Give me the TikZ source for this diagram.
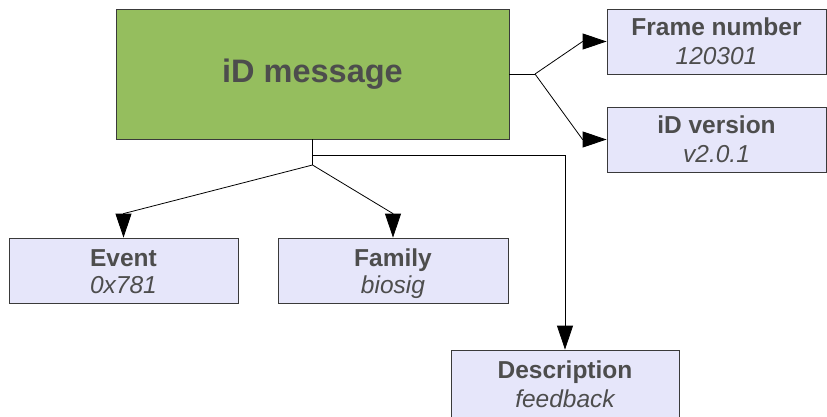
\documentclass[tikz,border=0pt]{standalone}
\usepackage{fontspec}
\setmainfont{Liberation Sans}
\usetikzlibrary{arrows.meta}

\definecolor{msggreen}{HTML}{95BE5E}
\definecolor{fieldfill}{HTML}{E6E6FA}
\definecolor{edgegray}{HTML}{3A3A3A}
\definecolor{textgray}{HTML}{4D4D4D}

\tikzset{
  mainbox/.style={draw=edgegray, line width=0.8pt, fill=msggreen, inner sep=0pt,
    minimum width=393pt, minimum height=130pt, text=textgray,
    font=\fontsize{32.5}{36}\selectfont\bfseries},
  fieldbox/.style={draw=edgegray, line width=0.8pt, fill=fieldfill, inner sep=0pt,
    minimum height=65pt},
  fieldname/.style={anchor=base, inner sep=0pt, text=textgray,
    font=\fontsize{24.5}{28}\selectfont\bfseries},
  fieldvalue/.style={anchor=base, inner sep=0pt, text=textgray,
    font=\fontsize{24.5}{28}\selectfont\itshape},
  link/.style={draw=black, line width=0.8pt},
  arrowlink/.style={link, -{Triangle[length=24pt, width=16pt]}},
}

\begin{document}
\begin{tikzpicture}[x=1pt, y=-1pt]
  \clip (0,0) rectangle (827,416);
  \fill[white] (0,0) rectangle (827,416);

  % message block
  \node[mainbox] (main) at (312.5,74) {iD message};

  % header fields
  \node[fieldbox, minimum width=219pt] (frame) at (716.5,41.5) {};
  \node[fieldbox, minimum width=219pt] (version) at (716.5,139.5) {};

  % body fields
  \node[fieldbox, minimum width=229pt] (event) at (123.5,270.5) {};
  \node[fieldbox, minimum width=230pt] (family) at (393,270.5) {};
  \node[fieldbox, minimum width=228pt, minimum height=70pt] (desc) at (565,385) {};

  % field captions and values
  \node[fieldname] (frame-n) at ([yshift=-27pt]frame.north) {Frame number};
  \node[fieldvalue] (frame-v) at ([yshift=-56pt]frame.north) {120301};
  \node[fieldname] (version-n) at ([yshift=-27pt]version.north) {iD version};
  \node[fieldvalue] (version-v) at ([yshift=-56pt]version.north) {v2.0.1};
  \node[fieldname] (event-n) at ([yshift=-29pt]event.north) {Event};
  \node[fieldvalue] (event-v) at ([yshift=-56pt]event.north) {0x781};
  \node[fieldname] (family-n) at ([yshift=-29pt]family.north) {Family};
  \node[fieldvalue] (family-v) at ([yshift=-56pt]family.north) {biosig};
  \node[fieldname] (desc-n) at ([yshift=-29pt]desc.north) {Description};
  \node[fieldvalue] (desc-v) at ([yshift=-58pt]desc.north) {feedback};

  % branch points
  \coordinate (jr) at (535,74);
  \coordinate (jd) at (312.5,155);
  \coordinate (jb) at (312.5,165);

  % connectors to the header fields
  \draw[link] (main.east) -- (jr);
  \draw[arrowlink] (jr) -- ([xshift=-24pt]frame.west) -- (frame.west);
  \draw[arrowlink] (jr) -- ([xshift=-24pt]version.west) -- (version.west);

  % connectors to the body fields
  \draw[link] (main.south) -- (jb);
  \draw[arrowlink] (jd) -| (desc.north);
  \draw[arrowlink] (jb) -- ([yshift=24pt]event.north) -- (event.north);
  \draw[arrowlink] (jb) -- ([yshift=24pt]family.north) -- (family.north);
\end{tikzpicture}
\end{document}
